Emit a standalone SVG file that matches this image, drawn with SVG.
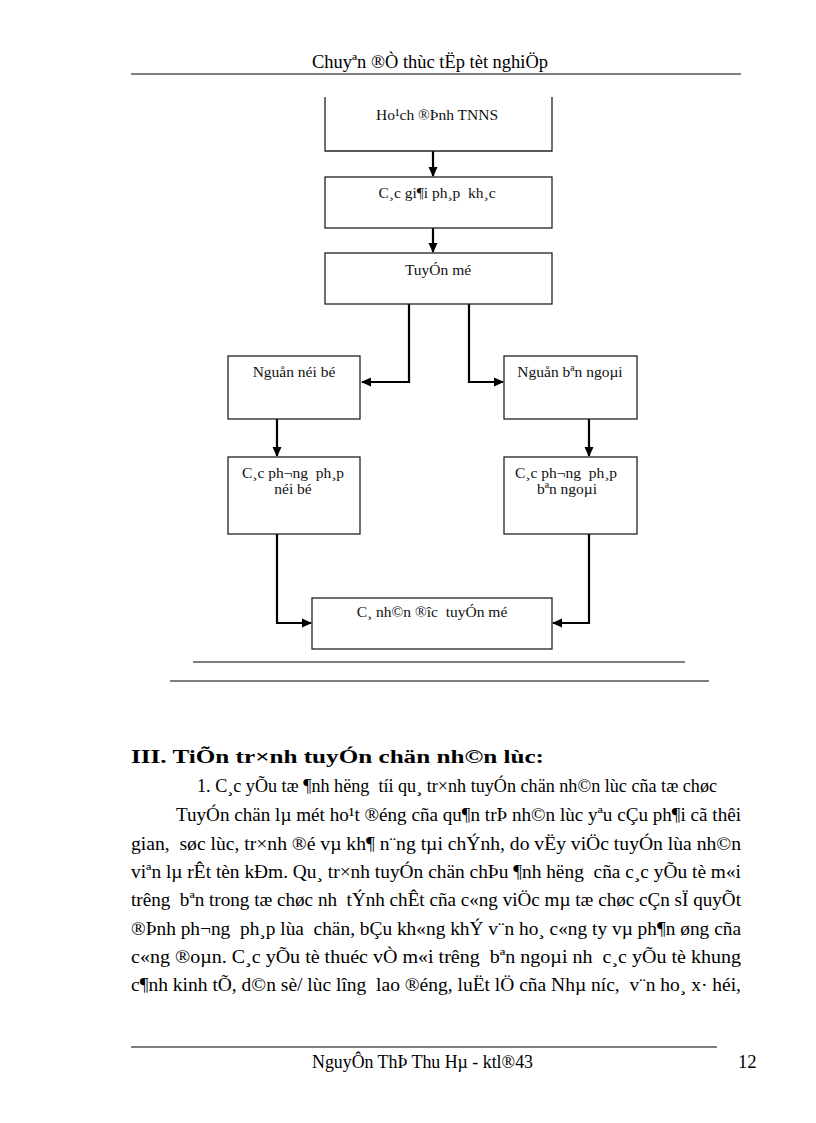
<svg xmlns="http://www.w3.org/2000/svg" width="816" height="1123" viewBox="0 0 816 1123">
<defs>
<style>
text{white-space:pre}
.bx{fill:#fff;stroke:#222;stroke-width:1.3}
.lbl{font-family:"Liberation Serif","Times New Roman",serif;font-size:15.5px;fill:#111;text-anchor:middle}
.body{font-family:"Liberation Serif","Times New Roman",serif;font-size:18.67px;fill:#000}
.bold{font-weight:bold}
.cn{fill:none;stroke:#000;stroke-width:2.2}
.rule{stroke:#555;stroke-width:1.6}
</style>
<marker id="ah" markerUnits="userSpaceOnUse" markerWidth="10" markerHeight="10" viewBox="0 0 10 10" refX="9" refY="5" orient="auto">
<path d="M0,0.5 L10,5 L0,9.5 Z" fill="#000"/>
</marker>
</defs>
<rect width="816" height="1123" fill="#fff"/>
<g id="header">
<text class="body" x="312" y="68" textLength="236" lengthAdjust="spacingAndGlyphs">Chuyªn ®Ò thùc tËp tèt nghiÖp</text>
<line class="rule" x1="131" y1="74" x2="741" y2="74"/>
</g>
<g id="connectors">
<path class="cn" d="M433,151 V176" marker-end="url(#ah)"/>
<path class="cn" d="M433,228 V252" marker-end="url(#ah)"/>
<path class="cn" d="M409,304 V382 H362" marker-end="url(#ah)"/>
<path class="cn" d="M469,304 V382 H503" marker-end="url(#ah)"/>
<path class="cn" d="M277,419 V456" marker-end="url(#ah)"/>
<path class="cn" d="M589,419 V456" marker-end="url(#ah)"/>
<path class="cn" d="M277,534 V623 H311" marker-end="url(#ah)"/>
<path class="cn" d="M589,534 V623 H553" marker-end="url(#ah)"/>
</g>
<g id="n-hoachdinh">
<path class="bx" d="M325,97 V151 H552 V97"/>
<text class="lbl" x="437" y="120">Ho¹ch ®Þnh TNNS</text>
</g>
<g id="n-giaiphap">
<rect class="bx" x="325" y="177" width="227" height="51"/>
<text class="lbl" x="437" y="198">C¸c gi¶i ph¸p  kh¸c</text>
</g>
<g id="n-tuyenmo">
<rect class="bx" x="325" y="253" width="227" height="51"/>
<text class="lbl" x="438" y="275">TuyÓn mé</text>
</g>
<g id="n-noibo">
<rect class="bx" x="228" y="356" width="132" height="63"/>
<text class="lbl" x="294" y="377">Nguån néi bé</text>
</g>
<g id="n-benngoai">
<rect class="bx" x="504" y="356" width="133" height="63"/>
<text class="lbl" x="570" y="377">Nguån bªn ngoµi</text>
</g>
<g id="n-pp-noibo">
<rect class="bx" x="228" y="457" width="132" height="77"/>
<text class="lbl" x="293" y="478">C¸c ph¬ng  ph¸p</text>
<text class="lbl" x="293" y="494">néi bé</text>
</g>
<g id="n-pp-benngoai">
<rect class="bx" x="504" y="457" width="133" height="77"/>
<text class="lbl" x="566" y="478">C¸c ph¬ng  ph¸p</text>
<text class="lbl" x="567" y="494">bªn ngoµi</text>
</g>
<g id="n-canhan">
<rect class="bx" x="312" y="598" width="240" height="51"/>
<text class="lbl" x="432" y="617">C¸ nh©n ®îc  tuyÓn mé</text>
</g>
<g id="rules">
<line class="rule" x1="193" y1="662" x2="685" y2="662"/>
<line class="rule" x1="170" y1="681" x2="709" y2="681"/>
</g>
<g id="bodytext">
<text class="body bold" x="131" y="763" textLength="413" lengthAdjust="spacingAndGlyphs">III. TiÕn tr×nh tuyÓn chän nh©n lùc:</text>
<text class="body" x="197" y="792" textLength="520" lengthAdjust="spacingAndGlyphs">1. C¸c yÕu tæ ¶nh hëng  tíi qu¸ tr×nh tuyÓn chän nh©n lùc cña tæ chøc</text>
<text class="body" x="176" y="821" textLength="565" lengthAdjust="spacingAndGlyphs">TuyÓn chän lµ mét ho¹t ®éng cña qu¶n trÞ nh©n lùc yªu cÇu ph¶i cã thêi</text>
<text class="body" x="131" y="850" textLength="610" lengthAdjust="spacingAndGlyphs">gian,  søc lùc, tr×nh ®é vµ kh¶ n¨ng tµi chÝnh, do vËy viÖc tuyÓn lùa nh©n</text>
<text class="body" x="131" y="878" textLength="610" lengthAdjust="spacingAndGlyphs">viªn lµ rÊt tèn kÐm. Qu¸ tr×nh tuyÓn chän chÞu ¶nh hëng  cña c¸c yÕu tè m«i</text>
<text class="body" x="131" y="906" textLength="610" lengthAdjust="spacingAndGlyphs">trêng  bªn trong tæ chøc nh  tÝnh chÊt cña c«ng viÖc mµ tæ chøc cÇn sÏ quyÕt</text>
<text class="body" x="131" y="935" textLength="610" lengthAdjust="spacingAndGlyphs">®Þnh ph¬ng  ph¸p lùa  chän, bÇu kh«ng khÝ v¨n ho¸ c«ng ty vµ ph¶n øng cña</text>
<text class="body" x="131" y="963" textLength="610" lengthAdjust="spacingAndGlyphs">c«ng ®oµn. C¸c yÕu tè thuéc vÒ m«i trêng  bªn ngoµi nh  c¸c yÕu tè khung</text>
<text class="body" x="131" y="991" textLength="610" lengthAdjust="spacingAndGlyphs">c¶nh kinh tÕ, d©n sè/ lùc lîng  lao ®éng, luËt lÖ cña Nhµ níc,  v¨n ho¸ x· héi,</text>
</g>
<g id="footer">
<line class="rule" x1="131" y1="1047" x2="717" y2="1047"/>
<text class="body" x="312" y="1068" textLength="221" lengthAdjust="spacingAndGlyphs">NguyÔn ThÞ Thu Hµ - ktl®43</text>
<text class="body" x="738" y="1068">12</text>
</g>
</svg>
